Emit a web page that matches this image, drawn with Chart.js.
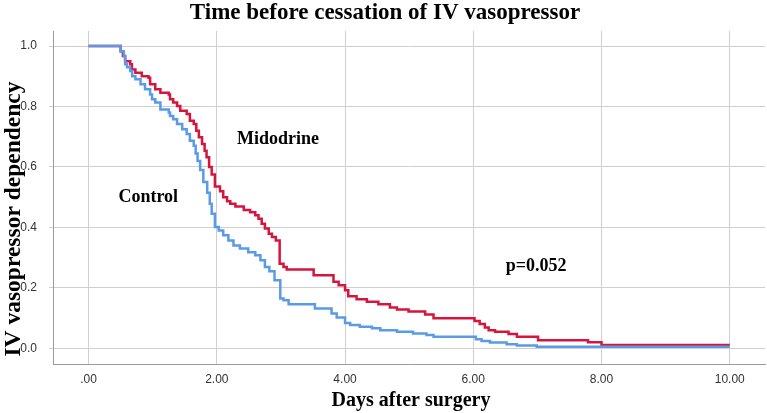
<!DOCTYPE html>
<html>
<head>
<meta charset="utf-8">
<script src="https://cdn.jsdelivr.net/npm/chart.js@4/dist/chart.umd.min.js"></script>
<style>
html,body{margin:0;padding:0;background:#fff;}
#wrap{width:767px;height:413px;position:relative;}
</style>
</head>
<body>
<div id="wrap"><canvas id="c" width="767" height="413"></canvas></div>
<script>
// Kaplan-Meier step data (time in days, proportion still dependent)
const midoX = [0, 0.50, 0.535, 0.57, 0.65, 0.676, 0.73, 0.83, 0.935, 0.96, 1.04, 1.12, 1.25, 1.27, 1.32, 1.38, 1.43, 1.53, 1.58, 1.64, 1.68, 1.72, 1.77, 1.81, 1.84, 1.88, 1.92, 1.97, 2.05, 2.10, 2.16, 2.21, 2.29, 2.42, 2.52, 2.60, 2.65, 2.70, 2.75, 2.81, 2.86, 2.92, 2.98, 3.04, 3.09, 3.51, 3.82, 3.90, 4.00, 4.05, 4.18, 4.34, 4.52, 4.70, 4.81, 4.99, 5.25, 5.38, 6.02, 6.10, 6.18, 6.24, 6.34, 6.55, 6.68, 7.01, 7.79, 8.00, 10.0];
const midoY = [1.0, 0.983, 0.967, 0.95, 0.94, 0.923, 0.912, 0.90, 0.895, 0.874, 0.857, 0.846, 0.84, 0.824, 0.813, 0.802, 0.786, 0.775, 0.753, 0.742, 0.72, 0.698, 0.676, 0.654, 0.632, 0.60, 0.575, 0.535, 0.52, 0.50, 0.487, 0.478, 0.469, 0.458, 0.45, 0.44, 0.429, 0.412, 0.396, 0.379, 0.368, 0.357, 0.28, 0.269, 0.261, 0.242, 0.22, 0.209, 0.192, 0.172, 0.162, 0.154, 0.146, 0.135, 0.128, 0.122, 0.112, 0.099, 0.09, 0.08, 0.069, 0.06, 0.055, 0.047, 0.038, 0.027, 0.02, 0.011, 0.011];

const ctrlX = [0, 0.50, 0.55, 0.57, 0.60, 0.65, 0.68, 0.73, 0.81, 0.88, 0.96, 0.99, 1.04, 1.12, 1.25, 1.27, 1.32, 1.38, 1.46, 1.53, 1.58, 1.64, 1.67, 1.70, 1.74, 1.79, 1.85, 1.89, 1.92, 1.97, 2.03, 2.10, 2.18, 2.26, 2.36, 2.49, 2.60, 2.68, 2.75, 2.82, 2.90, 2.99, 3.04, 3.12, 3.53, 3.79, 3.87, 4.00, 4.08, 4.23, 4.42, 4.55, 4.81, 5.06, 5.27, 5.38, 6.04, 6.13, 6.26, 6.52, 6.68, 6.99, 10.0];
const ctrlY = [1.0, 0.983, 0.967, 0.94, 0.93, 0.918, 0.90, 0.89, 0.874, 0.857, 0.84, 0.824, 0.813, 0.79, 0.78, 0.769, 0.758, 0.742, 0.725, 0.709, 0.687, 0.67, 0.645, 0.62, 0.59, 0.55, 0.515, 0.478, 0.445, 0.401, 0.39, 0.374, 0.357, 0.34, 0.33, 0.318, 0.308, 0.291, 0.269, 0.255, 0.225, 0.165, 0.159, 0.146, 0.132, 0.115, 0.102, 0.084, 0.077, 0.071, 0.066, 0.06, 0.055, 0.049, 0.044, 0.038, 0.03, 0.024, 0.019, 0.013, 0.009, 0.005, 0.005];

const xTicks = [0, 2, 4, 6, 8, 10];
const xTickLabels = ['.00', '2.00', '4.00', '6.00', '8.00', '10.00'];
const yTicks = [0, 0.2, 0.4, 0.6, 0.8, 1.0];
const yTickLabels = ['0.0', '0.2', '0.4', '0.6', '0.8', '1.0'];

const titleText = 'Time before cessation of IV vasopressor';
const xTitle = 'Days after surgery';
const yTitle = 'IV vasopressor dependency';
const annotations = [
  {text: 'Midodrine', x: 2.956, y: 0.693},
  {text: 'Control', x: 0.93, y: 0.499},
  {text: 'p=0.052', x: 6.98, y: 0.271}
];

const toPts = (xs, ys) => xs.map((x, i) => ({x: x, y: ys[i]}));

const textPlugin = {
  id: 'texts',
  afterDraw(chart) {
    const ctx = chart.ctx;
    const xs = chart.scales.x, ys = chart.scales.y;
    ctx.save();
    ctx.fillStyle = '#000';
    ctx.textAlign = 'center';
    ctx.textBaseline = 'middle';
    ctx.font = 'bold 23px "Liberation Serif"';
    ctx.fillText(titleText, 385, 13);
    ctx.font = 'bold 20px "Liberation Serif"';
    ctx.fillText(xTitle, 411, 401);
    ctx.save();
    ctx.translate(14, 219);
    ctx.rotate(-Math.PI / 2);
    ctx.font = 'bold 23.5px "Liberation Serif"';
    ctx.fillText(yTitle, 0, 0);
    ctx.restore();
    ctx.font = 'bold 18px "Liberation Serif"';
    annotations.forEach(a => {
      ctx.fillText(a.text, xs.getPixelForValue(a.x), ys.getPixelForValue(a.y));
    });
    ctx.restore();
  }
};

new Chart(document.getElementById('c'), {
  type: 'line',
  data: {
    datasets: [
      {label: 'Control', data: toPts(ctrlX, ctrlY), borderColor: '#5b9be6', borderWidth: 2.5, stepped: 'before', pointRadius: 0, fill: false},
      {label: 'Midodrine', data: toPts(midoX, midoY), borderColor: '#d7143c', borderWidth: 2.5, stepped: 'before', pointRadius: 0, fill: false}
    ]
  },
  options: {
    responsive: false,
    animation: false,
    devicePixelRatio: 1,
    layout: {padding: {left: 0, top: 31, right: 2, bottom: 0}},
    plugins: {legend: {display: false}, tooltip: {enabled: false}, title: {display: false}},
    scales: {
      x: {
        type: 'linear',
        min: -0.555, max: 10.55,
        afterBuildTicks: s => { s.ticks = xTicks.map(v => ({value: v})); },
        afterFit: s => { s.height = 49; },
        ticks: {
          autoSkip: false, maxRotation: 0, padding: 8,
          font: {family: '"Liberation Sans"', size: 12},
          color: '#333',
          callback: (v, i) => xTickLabels[i]
        },
        grid: {color: '#cfcfcf', lineWidth: 1, drawTicks: false},
        border: {display: true, color: '#9a9a9a', width: 1}
      },
      y: {
        type: 'linear',
        min: -0.052, max: 1.05,
        afterBuildTicks: s => { s.ticks = yTicks.map(v => ({value: v})); },
        afterFit: s => { s.width = 53; },
        ticks: {
          autoSkip: false, padding: 12,
          font: {family: '"Liberation Sans"', size: 12},
          color: '#333',
          callback: (v, i) => yTickLabels[i]
        },
        grid: {color: '#cfcfcf', lineWidth: 1, drawTicks: true, tickLength: 4},
        border: {display: true, color: '#9a9a9a', width: 1}
      }
    }
  },
  plugins: [textPlugin]
});
</script>
</body>
</html>
